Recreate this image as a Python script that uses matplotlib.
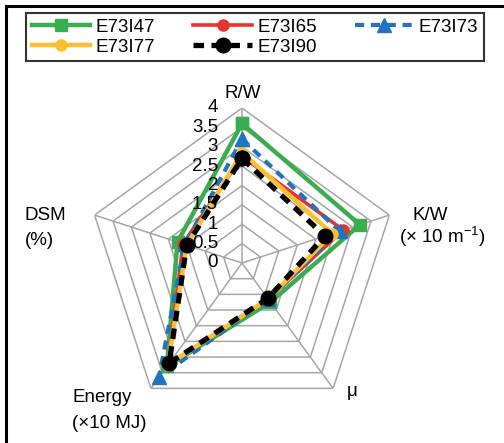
import numpy as np
import matplotlib
matplotlib.use("Agg")
import matplotlib.pyplot as plt
from matplotlib.lines import Line2D
from matplotlib.transforms import offset_copy

plt.rcParams['font.family'] = ['Liberation Sans', 'DejaVu Sans']

# axes (clockwise from top)
axes_names = ['R/W', 'K/W', 'μ', 'Energy', 'DSM']
series_names = ['E73I47', 'E73I65', 'E73I73', 'E73I77', 'E73I90']
e73i47 = [3.6, 3.2, 1.25, 3.3, 1.75]
e73i65 = [2.75, 2.75, 1.15, 3.25, 1.6]
e73i73 = [3.2, 2.65, 1.15, 3.65, 1.55]
e73i77 = [2.85, 2.45, 1.15, 3.25, 1.5]
e73i90 = [2.7, 2.25, 1.13, 3.2, 1.5]
ticks = [0, 0.5, 1, 1.5, 2, 2.5, 3, 3.5, 4]
tick_labels = ['0', '0.5', '1', '1.5', '2', '2.5', '3', '3.5', '4']

W, H = 504, 443
fig = plt.figure(figsize=(W / 100, H / 100), dpi=100)

def fx(x):
    return x / W

def fy(y):
    return 1 - y / H

# center (242, 263) px, radius 155 px
cx, cy, rad = 242, 263, 155
ax = fig.add_axes([fx(cx - rad), fy(cy + rad), 2 * rad / W, 2 * rad / H],
                  projection='polar')
ax.set_theta_zero_location('N')
ax.set_theta_direction(-1)
ax.set_ylim(0, 4)
ax.axis('off')

theta = np.deg2rad(np.arange(len(axes_names)) * 72)
theta_c = np.append(theta, theta[0])

grid_c = '#a6a6a6'
for r in ticks[1:]:
    ax.plot(theta_c, [r] * len(theta_c), color=grid_c, lw=1.1, zorder=1)
for t in theta:
    ax.plot([t, t], [0, 4], color=grid_c, lw=1.1, zorder=1)

styles = [
    dict(color='#3aae4f', ls='-', lw=3.2, marker='s', ms=9),
    dict(color='#ea3232', ls='-', lw=2.6, marker='o', ms=8),
    dict(color='#1f74c0', ls=(0, (2.2, 1.6)), lw=3.0, marker='^', ms=10),
    dict(color='#fdbf2d', ls='-', lw=3.2, marker='o', ms=8),
    dict(color='#000000', ls=(0, (2.0, 1.4)), lw=3.8, marker='o', ms=10.5),
]
all_vals = [e73i47, e73i65, e73i73, e73i77, e73i90]
handles = []
for name, vals, st in zip(series_names, all_vals, styles):
    v = np.append(vals, vals[0])
    h, = ax.plot(theta_c, v, label=name, zorder=3, clip_on=False, **st)
    handles.append(h)

# radial tick labels left of the top spoke
tr = offset_copy(ax.transData, fig=fig, x=-24, y=0, units='dots')
for t, lab in zip(ticks, tick_labels):
    ax.text(0, t, lab, transform=tr, ha='right', va='center', fontsize=13.5)

fs = 13.5
fig.text(fx(243), fy(93), 'R/W', ha='center', va='center', fontsize=fs)
fig.text(fx(413), fy(215), 'K/W', ha='left', va='center', fontsize=fs)
fig.text(fx(399), fy(237), '(× 10 m$^{\\mathregular{-1}}$)', ha='left', va='center', fontsize=fs)
fig.text(fx(347), fy(392), 'μ', ha='left', va='center', fontsize=fs)
fig.text(fx(72), fy(398), 'Energy', ha='left', va='center', fontsize=fs)
fig.text(fx(72), fy(423), '(×10 MJ)', ha='left', va='center', fontsize=fs)
fig.text(fx(25), fy(215), 'DSM', ha='left', va='center', fontsize=fs)
fig.text(fx(25), fy(240), '(%)', ha='left', va='center', fontsize=fs)

# legend filled row by row: reorder for matplotlib's column-wise fill
order = [0, 3, 1, 4, 2]
leg = fig.legend(handles=[handles[i] for i in order], loc='upper left', ncol=3,
                 bbox_to_anchor=(fx(26), fy(13)),
                 fontsize=fs, frameon=True, fancybox=False,
                 edgecolor='black', handlelength=3.1, handletextpad=0.3,
                 borderpad=0.3, labelspacing=0.15, borderaxespad=0,
                 columnspacing=2.05)
leg.get_frame().set_linewidth(1.5)

# outer frame (left and top edges only visible)
fig.add_artist(Line2D([fx(6), fx(6)], [0, fy(6)], color='black', lw=2.2))
fig.add_artist(Line2D([fx(6), 1], [fy(6), fy(6)], color='black', lw=2.2))

fig.savefig('out.png', dpi=100, facecolor='white')
